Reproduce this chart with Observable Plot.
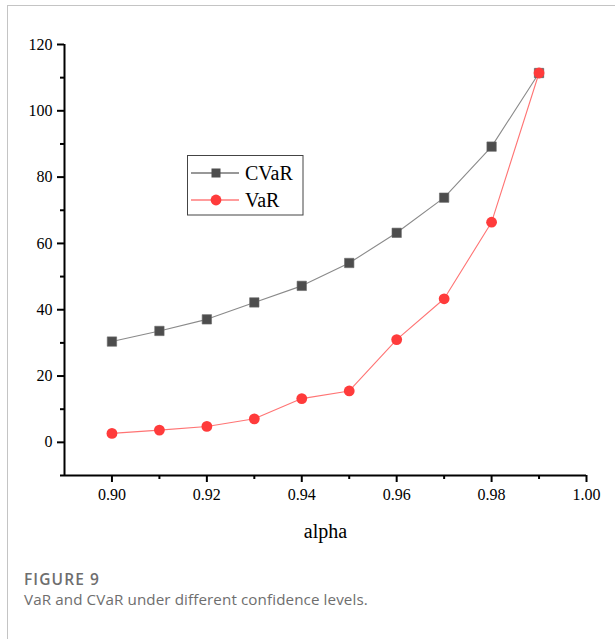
<!DOCTYPE html>
<html>
<head>
<meta charset="utf-8">
<script src="https://cdn.jsdelivr.net/npm/d3@7"></script>
<script src="https://cdn.jsdelivr.net/npm/@observablehq/plot@0.6"></script>
<style>
  html, body { margin: 0; padding: 0; background: #fff; }
  #page { position: relative; width: 615px; height: 639px; overflow: hidden; }
  #frame { position: absolute; left: 7px; top: 5px; right: -2px; bottom: -2px;
           border-top: 1.5px solid #c4c4c4; border-left: 1.5px solid #c4c4c4; }
  #chart { position: absolute; left: 0; top: 0; }
  #caption { position: absolute; left: 24px; top: 569px; font-family: "Open Sans", sans-serif; color: #6e6e6e; }
  #caption .num { font-size: 15.5px; font-weight: 600; letter-spacing: 1.1px; line-height: 21px; }
  #caption .txt { font-size: 15.2px; line-height: 19px; letter-spacing: 0.1px; }
</style>
</head>
<body>
<div id="page">
  <div id="frame"></div>
  <div id="chart"></div>
  <div id="caption">
    <div class="num">FIGURE 9</div>
    <div class="txt">VaR and CVaR under different confidence levels.</div>
  </div>
</div>
<script>
// Confidence levels and the two risk measures
const alpha = [0.90, 0.91, 0.92, 0.93, 0.94, 0.95, 0.96, 0.97, 0.98, 0.99];
const cvar  = [30.4, 33.6, 37.1, 42.2, 47.2, 54.1, 63.2, 73.8, 89.2, 111.4];
const varV  = [2.7, 3.7, 4.8, 7.1, 13.2, 15.5, 31.0, 43.3, 66.4, 111.4];

// Axis ticks
const xMajor = [0.90, 0.92, 0.94, 0.96, 0.98, 1.00];
const xMinor = [0.91, 0.93, 0.95, 0.97, 0.99];
const yMajor = [0, 20, 40, 60, 80, 100, 120];
const yMinor = [-10, 10, 30, 50, 70, 90, 110];

const cvarData = alpha.map((a, i) => ({alpha: a, value: cvar[i]}));
const varData  = alpha.map((a, i) => ({alpha: a, value: varV[i]}));

const serif = "'Liberation Serif', 'Times New Roman', serif";
const xDomain = [0.89, 1.0];
const yDomain = [-10, 120];

const chart = Plot.plot({
  width: 615,
  height: 555,
  marginLeft: 64,
  marginRight: 29,
  marginTop: 44,
  marginBottom: 80,
  style: {fontFamily: serif, background: "transparent", color: "#000"},
  x: {domain: xDomain},
  y: {domain: yDomain},
  marks: [
    Plot.axisX({ticks: xMajor, tickFormat: d3.format(".2f"), tickSize: 7, tickPadding: 6,
                fontSize: 16, strokeWidth: 2, label: "alpha", labelAnchor: "center",
                labelArrow: "none", labelOffset: 62}),
    Plot.axisX({ticks: xMinor, tickSize: 4, text: null, strokeWidth: 2, label: null}),
    Plot.axisY({ticks: yMajor, tickSize: 7, tickPadding: 5, fontSize: 16, strokeWidth: 2, label: null}),
    Plot.axisY({ticks: yMinor, tickSize: 4, text: null, strokeWidth: 2, label: null}),
    Plot.ruleX([xDomain[0]], {stroke: "#000", strokeWidth: 2}),
    Plot.ruleY([yDomain[0]], {stroke: "#000", strokeWidth: 2}),
    Plot.line(cvarData, {x: "alpha", y: "value", stroke: "#8a8a8a", strokeWidth: 1.1}),
    Plot.dot(cvarData, {x: "alpha", y: "value", symbol: "square", r: 5.3, fill: "#4d4d4d", stroke: "#6a6a6a", strokeWidth: 0.6}),
    Plot.line(varData, {x: "alpha", y: "value", stroke: "#ff7474", strokeWidth: 1.1}),
    Plot.dot(varData, {x: "alpha", y: "value", symbol: "circle", r: 5.4, fill: "#ff3b3b"})
  ]
});
chart.querySelectorAll("text").forEach(t => t.setAttribute("fill", "#000"));
// axis label size
chart.querySelectorAll("[aria-label='x-axis label'] text").forEach(t => { t.style.fontSize = "20px"; });
document.getElementById("chart").appendChild(chart);

// Legend box
const svg = d3.select(chart);
const lg = svg.append("g").attr("class", "legend").attr("font-family", serif).attr("text-anchor", "start");
lg.append("rect").attr("x", 187.5).attr("y", 155.5).attr("width", 115.5).attr("height", 59.5)
  .attr("fill", "#fff").attr("stroke", "#444").attr("stroke-width", 1);
const items = [
  {name: "CVaR", stroke: "#333", fill: "#4d4d4d", shape: "square", y: 173},
  {name: "VaR", stroke: "#ff3b3b", fill: "#ff3b3b", shape: "circle", y: 200}
];
items.forEach(it => {
  lg.append("line").attr("x1", 191).attr("x2", 239).attr("y1", it.y).attr("y2", it.y)
    .attr("stroke", it.stroke).attr("stroke-width", 1.2);
  if (it.shape === "square") {
    lg.append("rect").attr("x", 211.5).attr("y", it.y - 4.5).attr("width", 9).attr("height", 9).attr("fill", it.fill);
  } else {
    lg.append("circle").attr("cx", 216).attr("cy", it.y).attr("r", 5.4).attr("fill", it.fill);
  }
  lg.append("text").attr("x", 245).attr("y", it.y + 7).attr("font-size", 20)
    .attr("text-anchor", "start").attr("fill", "#000").text(it.name);
});
</script>
</body>
</html>
